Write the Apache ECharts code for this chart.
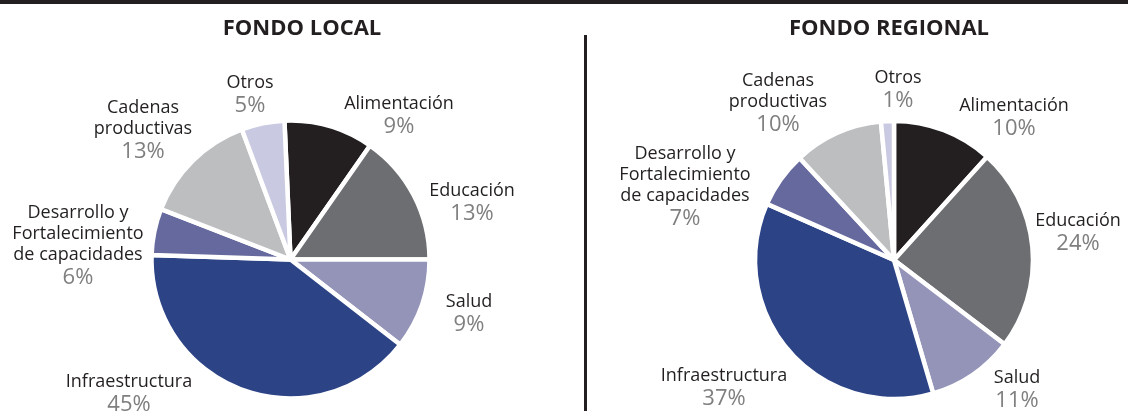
<!DOCTYPE html>
<html>
<head>
<meta charset="utf-8">
<script src="https://cdn.jsdelivr.net/npm/echarts@6/dist/echarts.min.js"></script>
<style>
html,body{margin:0;padding:0;background:#fff;}
#chart{width:1128px;height:411px;}
</style>
</head>
<body>
<div id="chart"></div>
<script>
// ---- data ----
const categories = ['Alimentación', 'Educación', 'Salud', 'Infraestructura', 'Desarrollo y Fortalecimiento de capacidades', 'Cadenas productivas', 'Otros'];
const categoryLabels = ['Alimentación', 'Educación', 'Salud', 'Infraestructura', 'Desarrollo y\nFortalecimiento\nde capacidades', 'Cadenas\nproductivas', 'Otros'];
// slice sizes as drawn in the picture (%)
const localValues = [10.4, 15.3, 10.5, 40.0, 5.4, 13.4, 5.0];
const regionalValues = [11.7, 23.7, 10.1, 36.2, 6.5, 10.4, 1.5];
// percentage texts printed on the picture
const localPctLabels = ['9%', '13%', '9%', '45%', '6%', '13%', '5%'];
const regionalPctLabels = ['10%', '24%', '11%', '37%', '7%', '10%', '1%'];
const titles = ['FONDO LOCAL', 'FONDO REGIONAL'];

// ---- layout / style ----
const colors = ['#231f20', '#6d6e71', '#9494b9', '#2c4386', '#66699d', '#bcbec0', '#c9c9e1'];
const localLabelPos = [[399, 116], [472, 203], [469, 314], [129, 394], [78, 246], [143, 131], [250, 95]];
const regionalLabelPos = [[1014, 118], [1078, 233], [1017, 390], [724, 388], [685, 187], [778, 104], [898, 90]];
const FONT = '"Open Sans", sans-serif';

function makeData(values) {
  return categories.map((c, i) => ({ name: c, value: values[i], itemStyle: { color: colors[i] } }));
}
function makeFormatter(pcts) {
  return function (p) {
    const lines = categoryLabels[p.dataIndex].split('\n').map(l => '{n|' + l + '}');
    return lines.join('\n') + '\n{p|' + pcts[p.dataIndex] + '}';
  };
}
function makeLayout(pos) {
  return function (p) {
    return { x: pos[p.dataIndex][0], y: pos[p.dataIndex][1], align: 'center', verticalAlign: 'middle' };
  };
}
const rich = {
  n: { fontFamily: FONT, fontSize: 18, lineHeight: 21, color: '#231f20' },
  p: { fontFamily: FONT, fontSize: 22, lineHeight: 25, color: '#7f7f7f' }
};

function pieSeries(values, pcts, center, startAngle, pos) {
  return {
    type: 'pie',
    center: center,
    radius: 139,
    startAngle: startAngle,
    clockwise: true,
    avoidLabelOverlap: false,
    silent: true,
    data: makeData(values),
    itemStyle: { borderColor: '#ffffff', borderWidth: 4.5 },
    label: { show: true, position: 'outside', formatter: makeFormatter(pcts), rich: rich, align: 'center' },
    labelLine: { show: false },
    labelLayout: makeLayout(pos),
    emphasis: { disabled: true }
  };
}

const chart = echarts.init(document.getElementById('chart'), null, { renderer: 'canvas' });
chart.setOption({
  animation: false,
  backgroundColor: '#ffffff',
  title: [
    { text: titles[0], left: 297, top: 13, textAlign: 'center',
      textStyle: { fontFamily: FONT, fontSize: 22, fontWeight: 'bold', color: '#231f20' } },
    { text: titles[1], left: 884, top: 13, textAlign: 'center',
      textStyle: { fontFamily: FONT, fontSize: 22, fontWeight: 'bold', color: '#231f20' } }
  ],
  graphic: [
    { type: 'rect', shape: { x: 0, y: 0, width: 1128, height: 4 }, style: { fill: '#231f20' }, silent: true },
    { type: 'rect', shape: { x: 584, y: 35, width: 3, height: 376 }, style: { fill: '#231f20' }, silent: true }
  ],
  series: [
    pieSeries(localValues, localPctLabels, [290.5, 259.5], 92.5, localLabelPos),
    pieSeries(regionalValues, regionalPctLabels, [894, 260], 90, regionalLabelPos)
  ]
});
</script>
</body>
</html>
